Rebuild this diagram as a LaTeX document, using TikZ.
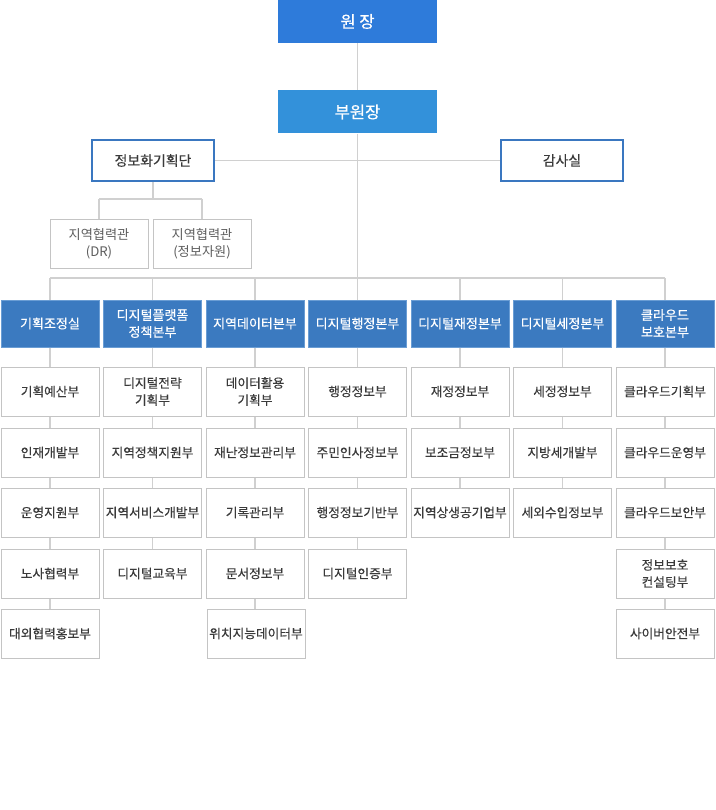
\documentclass[tikz,border=0pt]{standalone}
\usepackage{fontspec}
\setmainfont{Noto Sans CJK KR}
\newfontfamily\krbold[FakeBold=0.6]{Noto Sans CJK KR}
\newfontfamily\krsemi[FakeBold=0.25]{Noto Sans CJK KR}
\definecolor{topblue}{HTML}{2E7BDA}
\definecolor{vpblue}{HTML}{3391DA}
\definecolor{hdrblue}{HTML}{3B7AC0}
\definecolor{hdredge}{HTML}{6A9DD4}
\definecolor{frameblue}{HTML}{3A77C0}
\definecolor{linegray}{HTML}{D0D0D0}
\definecolor{boxgray}{HTML}{C4C4C4}
\definecolor{txtdark}{HTML}{3A3A3A}
\definecolor{txtgray}{HTML}{5E5E5E}
\tikzset{
  topbox/.style={rectangle, fill=#1, draw=none, minimum width=159pt, minimum height=43pt, inner sep=0pt, text=white, font=\krbold\fontsize{16.5}{19}\selectfont},
  sidebox/.style={rectangle, fill=white, draw=frameblue, line width=2pt, minimum width=122pt, minimum height=41pt, inner sep=0pt, text=txtdark, font=\krsemi\fontsize{13.9}{17}\selectfont},
  liaison/.style={rectangle, fill=white, draw=boxgray, line width=1pt, minimum width=98pt, minimum height=48pt, inner sep=0pt, align=center, text=txtgray, font=\fontsize{13.2}{17.3}\selectfont},
  hdr/.style={rectangle, fill=hdrblue, draw=hdredge, line width=1pt, minimum width=98pt, minimum height=47pt, inner sep=0pt, align=center, text=white, font=\krbold\fontsize{13}{17}\selectfont},
  dept/.style={rectangle, fill=white, draw=boxgray, line width=1pt, minimum width=98pt, minimum height=49pt, inner sep=0pt, align=center, text=txtdark, font=\krsemi\fontsize{12.7}{17}\selectfont},
  conn/.style={draw=linegray, line width=1.6pt}
}
\begin{document}
\begin{tikzpicture}[x=1pt,y=-1pt]
\useasboundingbox (0,0) rectangle (715,810);
% top
\node[topbox=topblue] (chief) at (357.5,21.5) {원 장};
\node[topbox=vpblue] (vice) at (357.5,112) {부원장};
\node[sidebox] (plan) at (153,160.5) {정보화기획단};
\node[sidebox] (audit) at (562,160.5) {감사실};
\node[liaison] (dr) at (99,244) {지역협력관\\(DR)};
\node[liaison] (res) at (202,244) {지역협력관\\(정보자원)};
% headers
\node[hdr] (h1) at (50,323.5) {기획조정실};
\node[hdr] (h2) at (152.5,323.5) {디지털플랫폼\\정책본부};
\node[hdr] (h3) at (255,323.5) {지역데이터본부};
\node[hdr] (h4) at (357.5,323.5) {디지털행정본부};
\node[hdr] (h5) at (460,323.5) {디지털재정본부};
\node[hdr] (h6) at (562.5,323.5) {디지털세정본부};
\node[hdr] (h7) at (665,323.5) {클라우드\\보호본부};
% col 1
\node[dept] (a1) at (50,391.5) {기획예산부};
\node[dept] (a2) at (50,452.5) {인재개발부};
\node[dept] (a3) at (50,512.5) {운영지원부};
\node[dept] (a4) at (50,573.5) {노사협력부};
\node[dept] (a5) at (50,633.5) {대외협력홍보부};
% col 2
\node[dept] (b1) at (152.5,391.5) {디지털전략\\기획부};
\node[dept] (b2) at (152.5,452.5) {지역정책지원부};
\node[dept] (b3) at (152.5,512.5) {지역서비스개발부};
\node[dept] (b4) at (152.5,573.5) {디지털교육부};
% col 3
\node[dept] (c1) at (255,391.5) {데이터활용\\기획부};
\node[dept] (c2) at (255,452.5) {재난정보관리부};
\node[dept] (c3) at (255,512.5) {기록관리부};
\node[dept] (c4) at (255,573.5) {문서정보부};
\node[dept] (c5) at (256,633.5) {위치지능데이터부};
% col 4
\node[dept] (d1) at (357.5,391.5) {행정정보부};
\node[dept] (d2) at (357.5,452.5) {주민인사정보부};
\node[dept] (d3) at (357.5,512.5) {행정정보기반부};
\node[dept] (d4) at (357.5,573.5) {디지털인증부};
% col 5
\node[dept] (e1) at (460,391.5) {재정정보부};
\node[dept] (e2) at (460,452.5) {보조금정보부};
\node[dept] (e3) at (460,512.5) {지역상생공기업부};
% col 6
\node[dept] (f1) at (562.5,391.5) {세정정보부};
\node[dept] (f2) at (562.5,452.5) {지방세개발부};
\node[dept] (f3) at (562.5,512.5) {세외수입정보부};
% col 7
\node[dept] (g1) at (665,391.5) {클라우드기획부};
\node[dept] (g2) at (665,452.5) {클라우드운영부};
\node[dept] (g3) at (665,512.5) {클라우드보안부};
\node[dept] (g4) at (665,573.5) {정보보호\\컨설팅부};
\node[dept] (g5) at (665,633.5) {사이버안전부};
% coordinates
\coordinate (pj) at (153,199);
\coordinate (pjl) at (99,199);
\coordinate (pjr) at (202,199);
\coordinate (bus1) at (50,278);
\coordinate (bus2) at (152.5,278);
\coordinate (bus3) at (255,278);
\coordinate (bus4) at (357.5,278);
\coordinate (bus5) at (460,278);
\coordinate (bus6) at (562.5,278);
\coordinate (bus7) at (665,278);
% connectors
\draw[conn] (chief.south) -- (vice.north);
\draw[conn] (vice.south) -- (h4.north);
\draw[conn] (plan.east) -- (audit.west);
\draw[conn] (plan.south) -- (pj);
\draw[conn] (pjl) -- (pjr);
\draw[conn] (pjl) -- (dr.north);
\draw[conn] (pjr) -- (res.north);
\draw[conn] (bus1) -- (bus7);
\draw[conn] (bus1) -- (h1.north);
\draw[conn] (bus2) -- (h2.north);
\draw[conn] (bus3) -- (h3.north);
\draw[conn] (bus5) -- (h5.north);
\draw[conn] (bus6) -- (h6.north);
\draw[conn] (bus7) -- (h7.north);
\draw[conn] (h1.south) -- (a1.north);
\draw[conn] (a1.south) -- (a2.north);
\draw[conn] (a2.south) -- (a3.north);
\draw[conn] (a3.south) -- (a4.north);
\draw[conn] (a4.south) -- (a5.north);
\draw[conn] (h2.south) -- (b1.north);
\draw[conn] (b1.south) -- (b2.north);
\draw[conn] (b2.south) -- (b3.north);
\draw[conn] (b3.south) -- (b4.north);
\draw[conn] (h3.south) -- (c1.north);
\draw[conn] (c1.south) -- (c2.north);
\draw[conn] (c2.south) -- (c3.north);
\draw[conn] (c3.south) -- (c4.north);
\draw[conn] (c4.south) -- (c4.south |- c5.north);
\draw[conn] (h4.south) -- (d1.north);
\draw[conn] (d1.south) -- (d2.north);
\draw[conn] (d2.south) -- (d3.north);
\draw[conn] (d3.south) -- (d4.north);
\draw[conn] (h5.south) -- (e1.north);
\draw[conn] (e1.south) -- (e2.north);
\draw[conn] (e2.south) -- (e3.north);
\draw[conn] (h6.south) -- (f1.north);
\draw[conn] (f1.south) -- (f2.north);
\draw[conn] (f2.south) -- (f3.north);
\draw[conn] (h7.south) -- (g1.north);
\draw[conn] (g1.south) -- (g2.north);
\draw[conn] (g2.south) -- (g3.north);
\draw[conn] (g3.south) -- (g4.north);
\draw[conn] (g4.south) -- (g5.north);
\end{tikzpicture}
\end{document}
